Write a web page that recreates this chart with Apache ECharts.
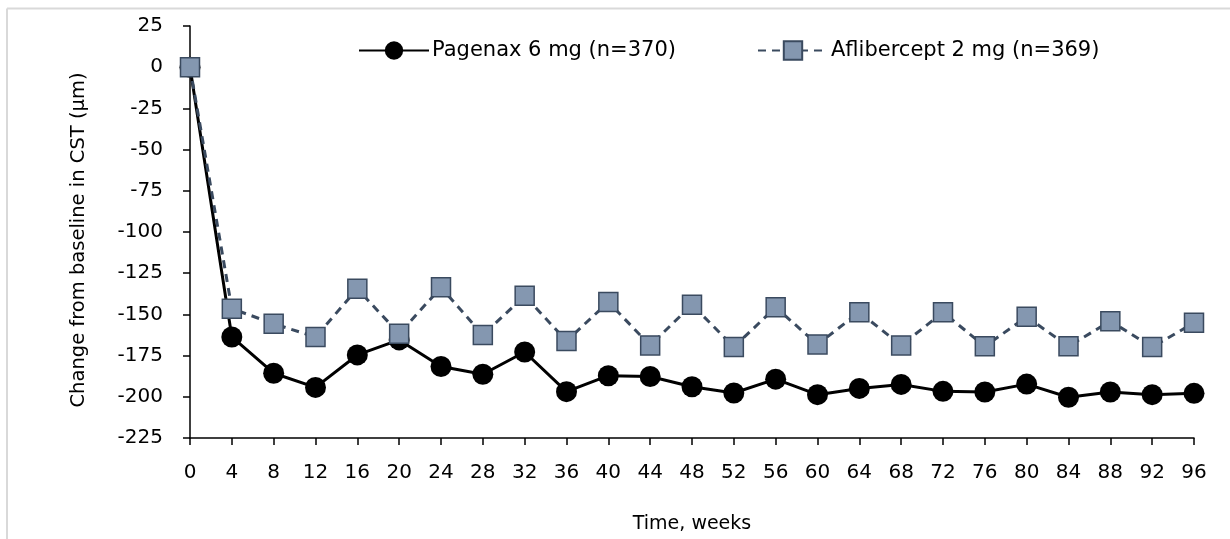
<!DOCTYPE html>
<html>
<head>
<meta charset="utf-8">
<script src="https://cdn.jsdelivr.net/npm/echarts@6/dist/echarts.min.js"></script>
<style>
html,body{margin:0;padding:0;background:#fff;}
#c{width:1230px;height:539px;}
</style>
</head>
<body>
<div id="c"></div>
<script>
const weeks = [0,4,8,12,16,20,24,28,32,36,40,44,48,52,56,60,64,68,72,76,80,84,88,92,96];
const pagenax = [0,-163.7,-185.7,-194.3,-174.6,-165.5,-181.6,-186.3,-172.8,-196.9,-187.2,-187.7,-193.9,-197.7,-189.3,-198.7,-194.9,-192.5,-196.7,-197.1,-192.3,-200.3,-197.1,-198.7,-197.9];
const aflibercept = [0,-146.5,-155.7,-163.7,-134.5,-161.7,-133.6,-162.5,-138.7,-166.1,-142.5,-168.8,-144.1,-169.8,-145.7,-168.2,-148.7,-168.8,-148.7,-169.4,-151.5,-169.4,-154.1,-169.8,-155.1];
const seriesNames = ['Pagenax 6 mg (n=370)', 'Aflibercept 2 mg (n=369)'];
const yTicks = {min:-225, max:25, interval:25};
const xTicks = {min:0, max:96, interval:4};

const font = '"DejaVu Sans", sans-serif';
const chart = echarts.init(document.getElementById('c'), null, {renderer:'canvas'});
chart.setOption({
  animation:false,
  backgroundColor:'#fff',
  textStyle:{fontFamily:font},
  graphic:[
    {type:'line', shape:{x1:7,y1:8.5,x2:1230,y2:8.5}, style:{stroke:'#D9D9D9', lineWidth:2}},
    {type:'line', shape:{x1:7,y1:8.5,x2:7,y2:539}, style:{stroke:'#D9D9D9', lineWidth:2}}
  ],
  grid:{left:190, right:36, top:26, bottom:98, containLabel:false},
  legend:{
    top:35, left:353,
    itemWidth:70, itemHeight:23, itemGap:81,
    textStyle:{fontSize:21, color:'#000', fontFamily:font, padding:[0,0,0,-2]},
    data:seriesNames
  },
  xAxis:{
    type:'value', min:xTicks.min, max:xTicks.max, interval:xTicks.interval,
    name:'Time, weeks', nameLocation:'middle', nameGap:77,
    nameTextStyle:{fontSize:19, color:'#000', fontFamily:font},
    axisLine:{onZero:false, lineStyle:{color:'#000', width:1.5}},
    axisTick:{show:true, length:7, lineStyle:{color:'#000', width:1.5}},
    axisLabel:{fontSize:20, color:'#000', margin:25, fontFamily:font},
    splitLine:{show:false}
  },
  yAxis:{
    type:'value', min:yTicks.min, max:yTicks.max, interval:yTicks.interval,
    name:'Change from baseline in CST (µm)', nameLocation:'middle', nameGap:101,
    nameTextStyle:{fontSize:19.5, color:'#000', fontFamily:font, padding:[0,16,0,0]},
    axisLine:{show:true, lineStyle:{color:'#000', width:1.5}},
    axisTick:{show:true, length:7, lineStyle:{color:'#000', width:1.5}},
    axisLabel:{fontSize:20, color:'#000', margin:27, fontFamily:font},
    splitLine:{show:false}
  },
  series:[
    {
      name:seriesNames[0], type:'line',
      data:weeks.map((w,i)=>[w,pagenax[i]]),
      symbol:'circle', symbolSize:21,
      itemStyle:{color:'#000'},
      lineStyle:{color:'#000', width:3},
      z:2
    },
    {
      name:seriesNames[1], type:'line',
      data:weeks.map((w,i)=>[w,aflibercept[i]]),
      symbol:'rect', symbolSize:19,
      itemStyle:{color:'#8497B0', borderColor:'#3A4A5F', borderWidth:1.5},
      lineStyle:{color:'#3A4A5F', width:3, type:[8,6]},
      z:3
    }
  ]
});
</script>
</body>
</html>
